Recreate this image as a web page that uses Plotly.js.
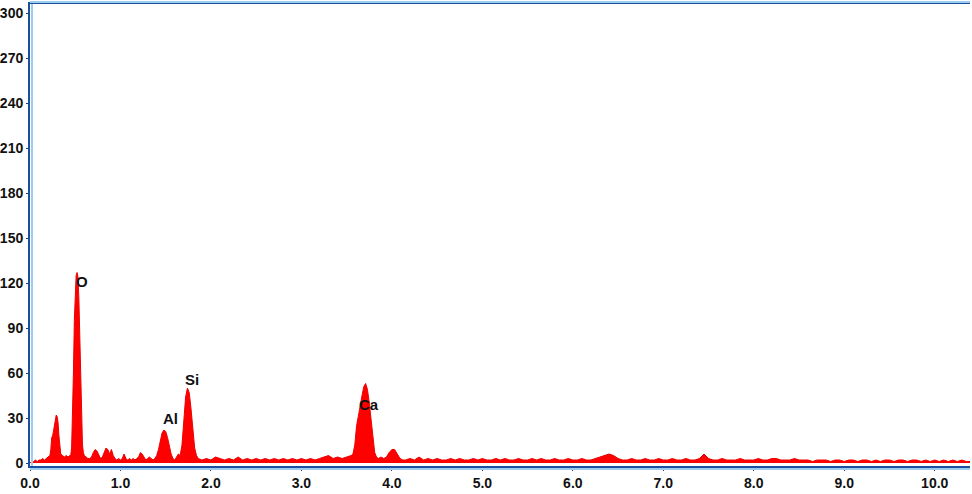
<!DOCTYPE html>
<html>
<head>
<meta charset="utf-8">
<script src="https://cdn.plot.ly/plotly-3.0.1.min.js"></script>
<style>
  body { margin: 0; background: #fff; }
  #spectrum { width: 972px; height: 494px; }
</style>
</head>
<body>
<div id="spectrum"></div>
<script>
// EDS spectrum, values (keV vs counts)

var energyKeV = [
    0.00, 0.02, 0.04, 0.06, 0.08, 0.10, 0.12, 0.14, 0.16, 0.18, 0.20, 0.22,
    // C
    0.23, 0.24, 0.25, 0.26, 0.27, 0.28, 0.29, 0.30, 0.31, 0.32, 0.33, 0.34,
    0.36, 0.38, 0.40, 0.42, 0.44,
    // O
    0.45, 0.46, 0.47, 0.48, 0.49, 0.50, 0.51, 0.52, 0.53, 0.54, 0.55, 0.56,
    0.57, 0.58, 0.59, 0.60,
    0.62, 0.64, 0.66, 0.68, 0.70, 0.72, 0.74, 0.76, 0.78, 0.80, 0.82, 0.84,
    0.86, 0.88, 0.90, 0.92, 0.94, 0.96, 0.98, 1.00, 1.02, 1.04, 1.06, 1.08,
    1.10, 1.12, 1.14, 1.16, 1.18, 1.20, 1.22, 1.24, 1.26, 1.28, 1.30, 1.32,
    1.34, 1.36, 1.38, 1.40,
    // Al
    1.42, 1.44, 1.46, 1.48, 1.50, 1.52, 1.54, 1.56, 1.58, 1.60, 1.62, 1.64,
    // Si
    1.66, 1.68, 1.70, 1.72, 1.74, 1.76, 1.78, 1.80, 1.82, 1.84, 1.86,
    1.90, 1.95, 2.00, 2.05, 2.10, 2.15, 2.20, 2.25, 2.30, 2.35, 2.40, 2.45,
    2.50, 2.55, 2.60, 2.65, 2.70, 2.75, 2.80, 2.85, 2.90, 2.95, 3.00, 3.05,
    3.10, 3.15, 3.20, 3.25, 3.30, 3.35, 3.40, 3.45, 3.50, 3.55,
    // Ca
    3.57, 3.59, 3.61, 3.63, 3.65, 3.67, 3.69, 3.71, 3.73, 3.75, 3.77, 3.79,
    3.81, 3.83, 3.85, 3.88, 3.91, 3.94, 3.97, 4.00, 4.03, 4.06, 4.09, 4.12,
    4.15, 4.20, 4.25, 4.30, 4.35, 4.40, 4.45, 4.50, 4.55, 4.60, 4.65, 4.70,
    4.75, 4.80, 4.85, 4.90, 4.95, 5.00, 5.05, 5.10, 5.15, 5.20, 5.25, 5.30,
    5.35, 5.40, 5.45, 5.50, 5.55, 5.60, 5.65, 5.70, 5.75, 5.80, 5.85, 5.90,
    5.95, 6.00, 6.05, 6.10, 6.15, 6.20, 6.25, 6.30, 6.35, 6.40, 6.45, 6.50,
    6.55, 6.60, 6.65, 6.70, 6.75, 6.80, 6.85, 6.90, 6.95, 7.00, 7.05, 7.10,
    7.15, 7.20, 7.25, 7.30, 7.35, 7.40, 7.45, 7.50, 7.55, 7.60, 7.65, 7.70,
    7.75, 7.80, 7.85, 7.90, 7.95, 8.00, 8.05, 8.10, 8.15, 8.20, 8.25, 8.30,
    8.35, 8.40, 8.45, 8.50, 8.55, 8.60, 8.65, 8.70, 8.75, 8.80, 8.85, 8.90,
    8.95, 9.00, 9.05, 9.10, 9.15, 9.20, 9.25, 9.30, 9.35, 9.40, 9.45, 9.50,
    9.55, 9.60, 9.65, 9.70, 9.75, 9.80, 9.85, 9.90, 9.95, 10.00, 10.05, 10.10,
    10.15, 10.20, 10.25, 10.30, 10.35, 10.40
];

var counts = [
    0, 1, 1, 2, 1, 2, 2, 3, 2, 3, 4, 5,
    9, 17, 18, 22, 26, 30, 32, 31, 27, 18, 9, 6,
    5, 4, 5, 4, 5,
    5, 10, 30, 60, 95, 118, 125, 127, 124, 110, 80, 48,
    25, 12, 7, 5,
    4, 3, 3, 4, 7, 9, 8, 5, 3, 4, 7, 10,
    9, 6, 9, 5, 3, 2, 3, 2, 3, 6, 3, 2,
    3, 2, 3, 2, 3, 4, 7, 6, 4, 2, 3, 4,
    3, 2, 3, 5,
    9, 15, 20, 22, 21, 17, 11, 6, 3, 2, 4, 6,
    5, 12, 28, 44, 50, 47, 36, 20, 10, 5, 3,
    2, 3, 2, 4, 3, 2, 3, 2, 4, 2, 3, 2,
    3, 2, 3, 2, 3, 2, 3, 2, 3, 2, 3, 2,
    3, 2, 3, 4, 5, 3, 4, 3, 4, 5,
    6, 12, 25, 33, 38, 45, 51, 53, 49, 40, 28, 15,
    7, 4, 3, 4, 3, 4, 7, 9, 9, 6, 3, 2,
    2, 3, 2, 4, 2, 3, 2, 3, 2, 2, 3, 2,
    3, 2, 2, 3, 2, 3, 2, 2, 3, 2, 3, 2,
    2, 3, 2, 2, 3, 2, 3, 2, 2, 3, 2, 2,
    3, 2, 2, 3, 2, 2, 3, 4, 5, 6, 5, 3,
    2, 2, 3, 2, 2, 3, 2, 2, 3, 2, 2, 3,
    2, 2, 3, 2, 2, 3, 6, 3, 2, 2, 3, 2,
    2, 2, 3, 2, 2, 2, 3, 2, 2, 3, 3, 2,
    2, 2, 3, 2, 2, 2, 1, 2, 2, 2, 1, 2,
    2, 1, 2, 2, 1, 2, 2, 1, 2, 1, 2, 2,
    1, 2, 2, 1, 2, 2, 1, 2, 1, 2, 1, 2,
    1, 2, 1, 2, 1, 1
];

// peak labels
var peakNames = ['O', 'Al', 'Si', 'Ca'];
var peakX = [0.57, 1.55, 1.79, 3.75];
var peakY = [121, 30, 56, 39];

var xTicks = [0, 1, 2, 3, 4, 5, 6, 7, 8, 9, 10];
var xTickText = ['0.0', '1.0', '2.0', '3.0', '4.0', '5.0', '6.0', '7.0', '8.0', '9.0', '10.0'];
var yTicks = [0, 30, 60, 90, 120, 150, 180, 210, 240, 270, 300];

var labelFont = {
    family: 'Liberation Sans, Arial, sans-serif',
    size: 14,
    weight: 'bold',
    color: '#111'
};

var spectrumData = {
    x: energyKeV,
    y: counts,
    type: 'scatter',
    mode: 'lines',
    fill: 'tozeroy',
    fillcolor: '#ff0000',
    line: { color: '#ee0000', width: 1 },
    hoverinfo: 'skip'
};

var annotations = peakNames.map(function(name, i) {
    return {
        x: peakX[i], y: peakY[i], text: name,
        showarrow: false,
        font: { family: labelFont.family, size: 15, weight: 'bold', color: '#111' }
    };
});

// light blue edge next to the dark axis lines
var edge = '#9cccf0';
var shapes = [
    { type: 'line', xref: 'paper', yref: 'paper', xsizemode: 'pixel', xanchor: 0,
      x0: 2, x1: 2, y0: 0, y1: 1, line: { color: edge, width: 2 } },
    { type: 'line', xref: 'paper', yref: 'paper', ysizemode: 'pixel', yanchor: 0,
      y0: -3, y1: -3, x0: 0, x1: 1, line: { color: edge, width: 2 } },
    { type: 'line', xref: 'paper', yref: 'paper', ysizemode: 'pixel', yanchor: 1,
      y0: 2, y1: 2, x0: 0, x1: 1, line: { color: edge, width: 2 } }
];

var layout = {
    width: 972,
    height: 494,
    margin: { l: 30, r: 2, t: 4, b: 28 },
    paper_bgcolor: '#ffffff',
    plot_bgcolor: '#ffffff',
    showlegend: false,
    xaxis: {
        range: [0, 10.39],
        tickvals: xTicks,
        ticktext: xTickText,
        ticks: 'outside',
        ticklen: 3,
        tickcolor: '#1d3f7a',
        tickfont: labelFont,
        showgrid: false,
        zeroline: false,
        showline: true,
        mirror: true,
        linecolor: '#1a4fa0',
        linewidth: 2
    },
    yaxis: {
        range: [-2, 306],
        tickvals: yTicks,
        ticks: 'outside',
        ticklen: 2,
        tickcolor: '#1d3f7a',
        tickfont: labelFont,
        showgrid: false,
        zeroline: false,
        showline: true,
        linecolor: '#1a4fa0',
        linewidth: 2
    },
    annotations: annotations,
    shapes: shapes
};

var config = { displayModeBar: false, staticPlot: true };

Plotly.newPlot('spectrum', [spectrumData], layout, config);
</script>
</body>
</html>
